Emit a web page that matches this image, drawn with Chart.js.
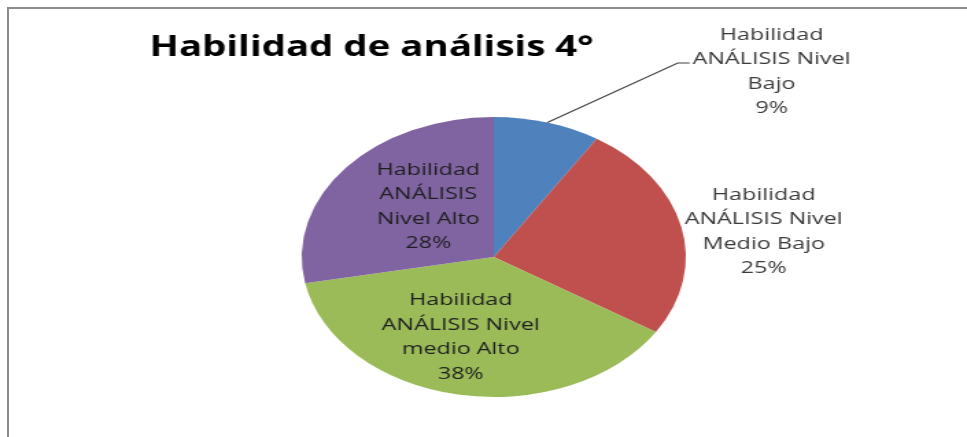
<!DOCTYPE html>
<html>
<head>
<meta charset="utf-8">
<script src="https://cdn.jsdelivr.net/npm/chart.js@4"></script>
<style>
  html, body { margin: 0; padding: 0; background: #fff; overflow: hidden; }
  #marco { position: absolute; left: 7px; top: 7px; width: 965px; height: 435px;
           border-top: 2px solid #8c8c8c; border-left: 2px solid #8c8c8c; }
  /* the original picture is stretched sideways, so the canvas is too */
  #myChart { position: absolute; left: 0; top: 0; transform: scaleX(1.3716); transform-origin: 0 0; }
</style>
</head>
<body>
<div id="marco"></div>
<canvas id="myChart" width="705" height="437"></canvas>
<script>
const titulo = 'Habilidad de análisis 4°';
const categorias = [
  ['Habilidad', 'ANÁLISIS Nivel', 'Bajo'],
  ['Habilidad', 'ANÁLISIS Nivel', 'Medio Bajo'],
  ['Habilidad', 'ANÁLISIS Nivel', 'medio Alto'],
  ['Habilidad', 'ANÁLISIS', 'Nivel Alto']
];
const porcentajes = [9, 25, 38, 28];
const colores = ['#4F81BD', '#C0504D', '#9BBB59', '#8064A2'];

// where each label sits, in radii from the pie centre
const ubicacion = [
  { dx: 1.447, dy: -1.325, color: '#3a3a3a', guia: [0.958, -1.386, 1.02, -1.386] },
  { dx: 1.406, dy: -0.182, color: '#3a3a3a' },
  { dx: -0.172, dy: 0.571, color: '#1e1e1e' },
  { dx: -0.341, dy: -0.361, color: '#1e1e1e' }
];

const etiquetas = {
  id: 'etiquetas',
  afterDatasetsDraw(chart) {
    const ctx = chart.ctx;
    const meta = chart.getDatasetMeta(0);
    ctx.save();
    ctx.font = '17px "Open Sans"';
    ctx.textAlign = 'center';
    ctx.textBaseline = 'middle';
    meta.data.forEach((arc, i) => {
      const r = arc.outerRadius;
      const pos = ubicacion[i];
      const ax = arc.x + pos.dx * r;
      const ay = arc.y + pos.dy * r;
      const lines = categorias[i].concat([porcentajes[i] + '%']);
      const lh = 24.5;
      ctx.fillStyle = pos.color;
      lines.forEach((t, k) => {
        ctx.fillText(t, ax, ay + (k - (lines.length - 1) / 2) * lh);
      });
      if (pos.guia) {
        const mid = (arc.startAngle + arc.endAngle) / 2;
        ctx.strokeStyle = '#404040';
        ctx.lineWidth = 1.1;
        ctx.beginPath();
        ctx.moveTo(arc.x + r * Math.cos(mid), arc.y + r * Math.sin(mid));
        ctx.lineTo(arc.x + pos.guia[0] * r, arc.y + pos.guia[1] * r);
        ctx.lineTo(arc.x + pos.guia[2] * r, arc.y + pos.guia[3] * r);
        ctx.stroke();
      }
    });
    ctx.restore();
  }
};

var ctx = document.getElementById('myChart').getContext('2d');
var chart = new Chart(ctx, {
  type: 'pie',
  data: {
    labels: categorias,
    datasets: [{
      data: porcentajes,
      backgroundColor: colores,
      borderWidth: 0
    }]
  },
  options: {
    responsive: false,
    animation: false,
    events: [],
    layout: { padding: { left: 109, right: 94, top: 0, bottom: 40 } },
    plugins: {
      legend: { display: false },
      tooltip: { enabled: false },
      title: {
        display: true,
        text: titulo,
        align: 'start',
        color: '#000',
        font: { family: 'Open Sans', size: 28, weight: 'bold', lineHeight: 1.2 },
        padding: { top: 31, bottom: 52.4 }
      }
    }
  },
  plugins: [etiquetas]
});
</script>
</body>
</html>
